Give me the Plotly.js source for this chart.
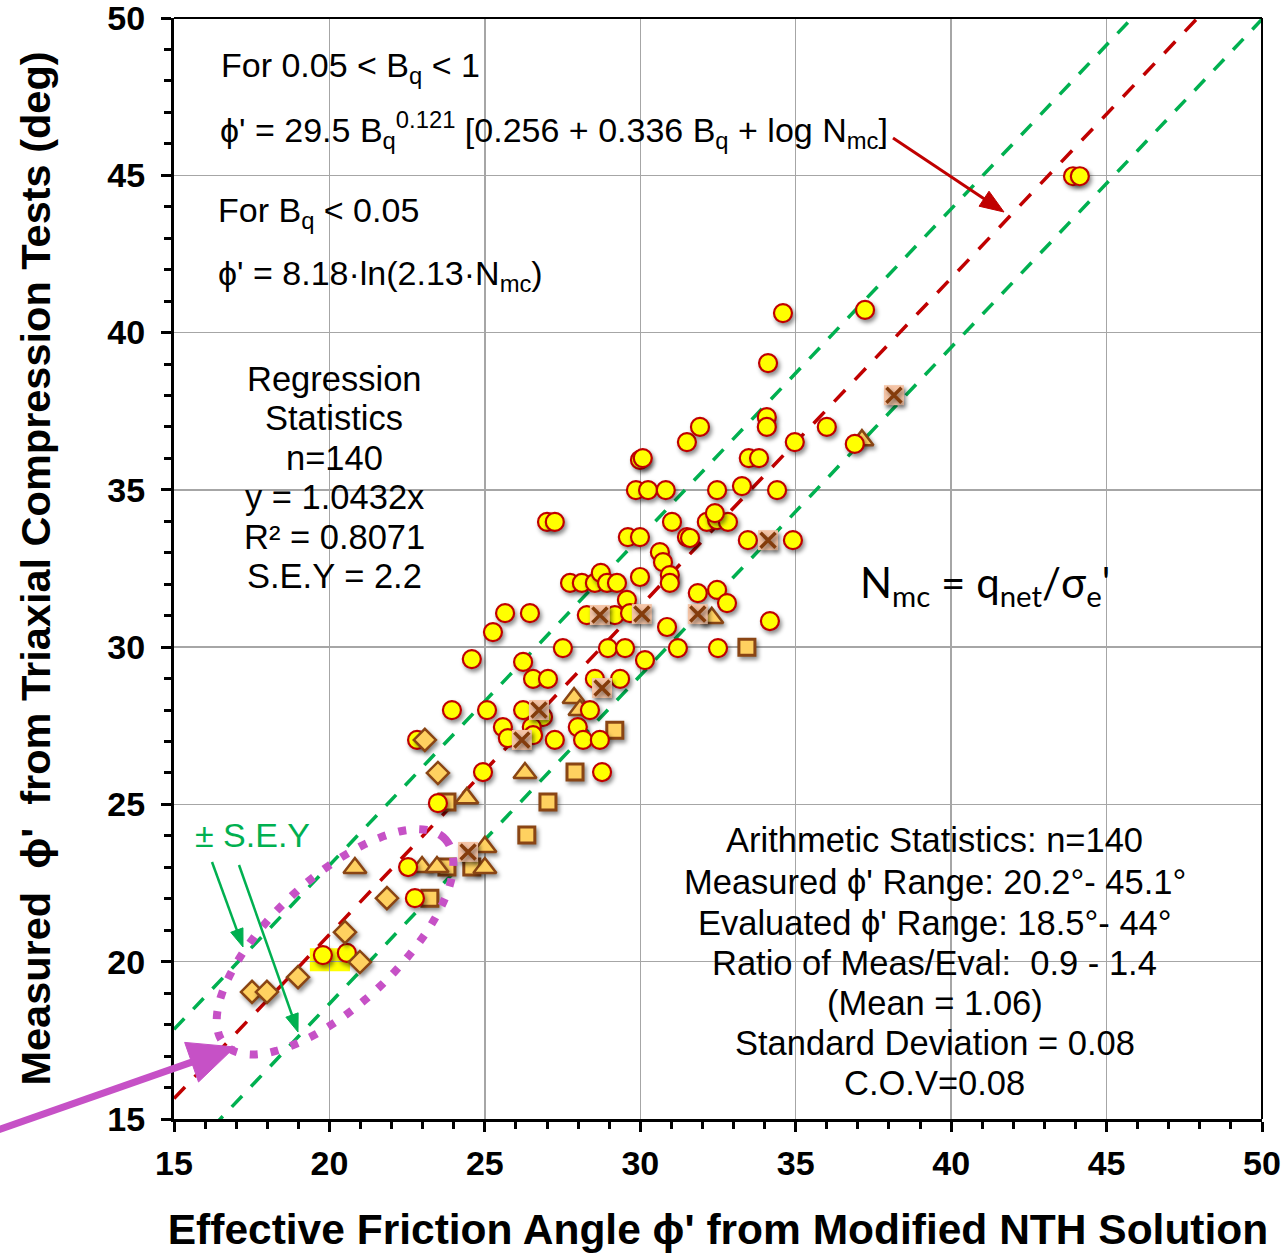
<!DOCTYPE html>
<html><head><meta charset="utf-8">
<script src="https://cdn.plot.ly/plotly-3.0.1.min.js"></script>
<style>
html,body{margin:0;padding:0;background:#fff;}
#chart{width:1281px;height:1254px;}
.scatterlayer .points path{filter:drop-shadow(2px 3px 2px rgba(0,0,0,0.45));}
</style></head><body><div id="chart"></div>
<script>
// Regression statistics
const slope = 1.0432;
const sey = 2.2;
const lineX = [15, 50];

// Yellow circles
const circleX = [43.92,44.14,37.23,34.59,34.11,34.07,34.07,36.00,34.97,36.90,31.50,31.92,33.49,33.82,29.99,30.08,
29.86,30.25,30.82,32.47,33.27,34.40,31.02,32.14,32.47,32.82,32.40,27.00,27.25,29.60,29.99,31.50,31.60,33.46,34.91,
30.63,30.73,30.95,30.95,29.99,27.74,28.12,28.54,28.73,28.93,29.25,29.57,28.28,29.18,29.67,30.86,31.85,32.47,32.79,34.17,
27.51,28.96,29.51,31.21,32.50,30.15,25.65,26.45,25.26,24.58,26.23,26.55,27.03,28.54,29.35,
23.94,25.07,26.23,26.87,25.58,25.74,26.51,26.55,27.25,27.99,28.16,28.70,28.38,22.82,24.94,28.77,23.49,22.53,22.75,19.79,20.56];
const circleY = [44.97,44.97,40.72,40.62,39.03,37.31,37.00,37.00,36.52,36.46,36.52,37.00,36.01,36.01,35.95,36.01,
34.99,34.99,34.99,34.99,35.12,34.99,33.98,33.98,34.04,33.98,34.26,33.98,33.98,33.50,33.50,33.50,33.47,33.40,33.40,
33.02,32.70,32.29,32.04,32.23,32.04,32.04,32.04,32.36,32.04,32.04,31.50,31.02,31.02,31.08,30.64,31.72,31.82,31.40,30.83,
29.97,29.97,29.97,29.97,29.97,29.59,31.08,31.08,30.48,29.62,29.53,28.99,28.99,28.99,28.99,
28.00,28.00,28.00,27.78,27.46,27.11,27.46,27.20,27.05,27.46,27.05,27.05,28.00,27.05,26.03,26.03,25.04,23.01,22.02,20.21,20.28];

// Crossed squares
const crossX = [28.70,30.05,31.85,34.11,38.16,28.77,26.74,26.19,24.46];
const crossY = [31.02,31.05,31.05,33.40,38.01,28.70,28.00,27.05,23.49];

// Triangles
const triX = [37.13,32.30,27.87,28.06,26.29,24.42,20.82,22.98,23.46,25.00,25.00];
const triY = [36.58,30.93,28.38,28.00,26.00,25.20,22.98,23.01,23.01,23.65,22.98];

// Squares
const sqX = [33.43,29.18,27.90,27.03,26.35,23.78,23.78,24.58,23.23];
const sqY = [30.00,27.36,26.03,25.08,24.03,25.08,23.01,23.01,22.02];

// Diamonds
const diaX = [23.07,23.49,21.85,20.50,20.98,18.99,17.51,17.99];
const diaY = [27.05,26.00,22.02,20.94,19.99,19.51,19.04,19.04];

// Text blocks
const formulaLines = ['For 0.05 &lt; B<sub>q</sub> &lt; 1',
  'ϕ\' = 29.5 B<sub>q</sub><sup>0.121</sup> [0.256 + 0.336 B<sub>q</sub> + log N<sub>mc</sub>]',
  'For B<sub>q</sub> &lt; 0.05',
  'ϕ\' = 8.18·ln(2.13·N<sub>mc</sub>)'];
const formulaY = [48.44, 46.44, 43.83, 41.83];
const formulaX = [16.45, 16.40, 16.35, 16.35];
const regLines = ['Regression', 'Statistics', 'n=140', 'y = 1.0432x', 'R² = 0.8071', 'S.E.Y = 2.2'];
const regLineY = [38.52, 37.28, 36.01, 34.77, 33.50, 32.26];
const arithLines = ['Arithmetic Statistics: n=140', 'Measured ϕ\' Range: 20.2°- 45.1°', 'Evaluated ϕ\' Range: 18.5°- 44°',
  'Ratio of Meas/Eval:  0.9 - 1.4', '(Mean = 1.06)', 'Standard Deviation = 0.08', 'C.O.V=0.08'];
const arithLineY = [23.87, 22.53, 21.23, 19.96, 18.69, 17.42, 16.14];

const regY = lineX.map(v => slope * v);
const upY = lineX.map(v => slope * v + sey);
const loY = lineX.map(v => slope * v - sey);

const orange = '#ffd160', brown = '#8a4514';

const traces = [
  {x: lineX, y: upY, mode: 'lines', line: {color: '#00b050', width: 3.5, dash: '15px,13px'}, hoverinfo: 'skip'},
  {x: lineX, y: loY, mode: 'lines', line: {color: '#00b050', width: 3.5, dash: '15px,13px'}, hoverinfo: 'skip'},
  {x: lineX, y: regY, mode: 'lines', line: {color: '#c00000', width: 3.5, dash: '16px,14px'}, hoverinfo: 'skip'},
  {x: sqX, y: sqY, mode: 'markers', marker: {symbol: 'square', size: 16, color: orange, line: {color: brown, width: 3}}},
  {x: triX, y: triY, mode: 'markers', marker: {symbol: 'triangle-up', size: 20, color: orange, line: {color: brown, width: 2.5}}},
  {x: circleX, y: circleY, mode: 'markers', marker: {symbol: 'circle', size: 18, color: '#ffff00', line: {color: '#c00000', width: 2.2}}},
  {x: diaX, y: diaY, mode: 'markers', marker: {symbol: 'diamond', size: 17, color: orange, line: {color: brown, width: 2.5}}},
  {x: crossX, y: crossY, mode: 'markers', marker: {symbol: 'square', size: 20, color: '#f5c4a6', line: {width: 0}}},
  {x: crossX, y: crossY, mode: 'markers', marker: {symbol: 'x-thin', size: 15, color: '#843c0c', line: {color: '#843c0c', width: 3.5}}}
];

// Ellipse outline around the low-angle cluster
const ell = {cx: 20.18, cy: 20.63, a: 4.82, b: 2.02, ang: 42.5 * Math.PI / 180};
let path = '';
for (let i = 0; i <= 120; i++) {
  const t = 2 * Math.PI * i / 120;
  const px = ell.cx + ell.a * Math.cos(ell.ang) * Math.cos(t) - ell.b * Math.sin(ell.ang) * Math.sin(t);
  const py = ell.cy + ell.a * Math.sin(ell.ang) * Math.cos(t) + ell.b * Math.cos(ell.ang) * Math.sin(t);
  path += (i === 0 ? 'M' : 'L') + px.toFixed(3) + ',' + py.toFixed(3);
}
path += 'Z';

// plot area in pixels (for decorations only)
const PL = 174, PW = 1088, PB = 1119, PH = 1101;
const px2p = (px) => (px - PL) / PW;
const py2p = (py) => (PB - py) / PH;

function arrowShapes(tx, ty, hx, hy, lw, hl, hw, color) {
  const len = Math.hypot(hx - tx, hy - ty);
  const dx = (hx - tx) / len, dy = (hy - ty) / len;
  const bx = hx - dx * hl, by = hy - dy * hl;
  const nx = -dy, ny = dx;
  const c1x = bx + nx * hw / 2, c1y = by + ny * hw / 2;
  const c2x = bx - nx * hw / 2, c2y = by - ny * hw / 2;
  const bx2 = hx - dx * hl * 0.7, by2 = hy - dy * hl * 0.7;
  return [
    {type: 'line', xref: 'paper', yref: 'paper', x0: px2p(tx), y0: py2p(ty), x1: px2p(bx2), y1: py2p(by2), line: {color: color, width: lw}},
    {type: 'path', xref: 'paper', yref: 'paper',
     path: 'M' + px2p(hx) + ',' + py2p(hy) + 'L' + px2p(c1x) + ',' + py2p(c1y) + 'L' + px2p(c2x) + ',' + py2p(c2y) + 'Z',
     fillcolor: color, line: {color: color, width: 1}}
  ];
}

function whiteBox(x0, y0, x1, y1) {
  return {type: 'rect', xref: 'paper', yref: 'paper', x0: px2p(x0), x1: px2p(x1), y0: py2p(y1), y1: py2p(y0),
          fillcolor: 'white', line: {width: 0}, layer: 'below'};
}

const txtFont = {family: 'Liberation Sans, Arial, sans-serif', size: 34.5, color: 'black'};
const formFont = {family: 'Liberation Sans, Arial, sans-serif', size: 34, color: 'black'};
const xTitleFont = {family: 'Liberation Sans, Arial, sans-serif', size: 42.5, color: 'black', weight: 'bold'};
const yTitleFont = {family: 'Liberation Sans, Arial, sans-serif', size: 41.5, color: 'black', weight: 'bold'};
const tickFont = {family: 'Liberation Sans, Arial, sans-serif', size: 34, color: 'black', weight: 'bold'};

const annotations = [];
formulaLines.forEach((t, i) => annotations.push({xref: 'x', yref: 'y', x: formulaX[i], y: formulaY[i], xanchor: 'left', yanchor: 'middle',
  showarrow: false, text: t, font: formFont}));
regLines.forEach((t, i) => annotations.push({xref: 'x', yref: 'y', x: 20.15, y: regLineY[i], xanchor: 'center', yanchor: 'middle',
  showarrow: false, text: t, font: txtFont}));
arithLines.forEach((t, i) => annotations.push({xref: 'x', yref: 'y', x: 39.48, y: arithLineY[i], xanchor: 'center', yanchor: 'middle',
  showarrow: false, text: t, font: txtFont}));
annotations.push({xref: 'x', yref: 'y', x: 41.09, y: 31.97, xanchor: 'center', yanchor: 'middle', showarrow: false,
  text: 'N<sub>mc</sub> = q<sub>net</sub>/σ<sub>e</sub>\'', font: {family: 'Lato, Open Sans, sans-serif', size: 42, color: 'black'}});
annotations.push({xref: 'x', yref: 'y', x: 15.6, y: 24.03, xanchor: 'left', yanchor: 'middle', showarrow: false,
  text: '± S.E.Y', font: {family: 'Liberation Sans, Arial, sans-serif', size: 34, color: '#00b050'}});

const shapes = [
  whiteBox(188, 28, 896, 185),
  whiteBox(188, 185, 548, 302),
  whiteBox(232, 352, 438, 600),
  whiteBox(680, 815, 1193, 1106),
  whiteBox(850, 545, 1120, 625),
  {type: 'rect', xref: 'x', yref: 'y', x0: 19.37, x1: 20.66, y0: 19.7, y1: 20.43, fillcolor: '#ffff00', line: {width: 0}, layer: 'below'},
  {type: 'path', xref: 'x', yref: 'y', path: path, line: {color: '#c651c6', width: 8, dash: '8px,13px'}},
  {type: 'line', xref: 'paper', yref: 'paper', x0: 0, x1: 1, y0: 1, y1: 1, line: {color: 'black', width: 2}},
  {type: 'line', xref: 'paper', yref: 'paper', x0: 1, x1: 1, y0: 0, y1: 1, line: {color: 'black', width: 2}}
].concat(
  arrowShapes(893, 138, 1004, 212, 3, 24, 18, '#c00000'),
  arrowShapes(-5, 1131, 235, 1047, 7, 46, 42, '#c651c6'),
  arrowShapes(212, 862, 243, 947, 2.5, 18, 13, '#00b050'),
  arrowShapes(239, 865, 298, 1032, 2.5, 18, 13, '#00b050')
);

const axisCommon = {
  range: [15, 50], tick0: 15, dtick: 5, showgrid: true, gridcolor: '#a6a6a6', gridwidth: 1.5, zeroline: false,
  showline: true, linecolor: 'black', linewidth: 3, ticks: 'outside', ticklen: 10, tickwidth: 3, tickcolor: 'black',
  minor: {dtick: 1, ticks: 'outside', ticklen: 7, tickwidth: 3, tickcolor: 'black', showgrid: false},
  tickfont: tickFont, fixedrange: true, ticklabeloverflow: 'allow'
};

const layout = {
  width: 1281, height: 1254,
  margin: {l: 174, r: 19, t: 18, b: 135},
  paper_bgcolor: 'white', plot_bgcolor: 'white',
  showlegend: false,
  xaxis: Object.assign({}, axisCommon, {ticklabelstandoff: 2,
    title: {text: 'Effective Friction Angle ϕ\' from Modified NTH Solution', font: xTitleFont, standoff: 34}}),
  yaxis: Object.assign({}, axisCommon, {ticklabelstandoff: 9,
    title: {text: 'Measured  ϕ\'  from Triaxial Compression Tests (deg)', font: yTitleFont, standoff: 44}}),
  annotations: annotations,
  shapes: shapes
};

Plotly.newPlot('chart', traces, layout, {staticPlot: true});
</script>
</body></html>
